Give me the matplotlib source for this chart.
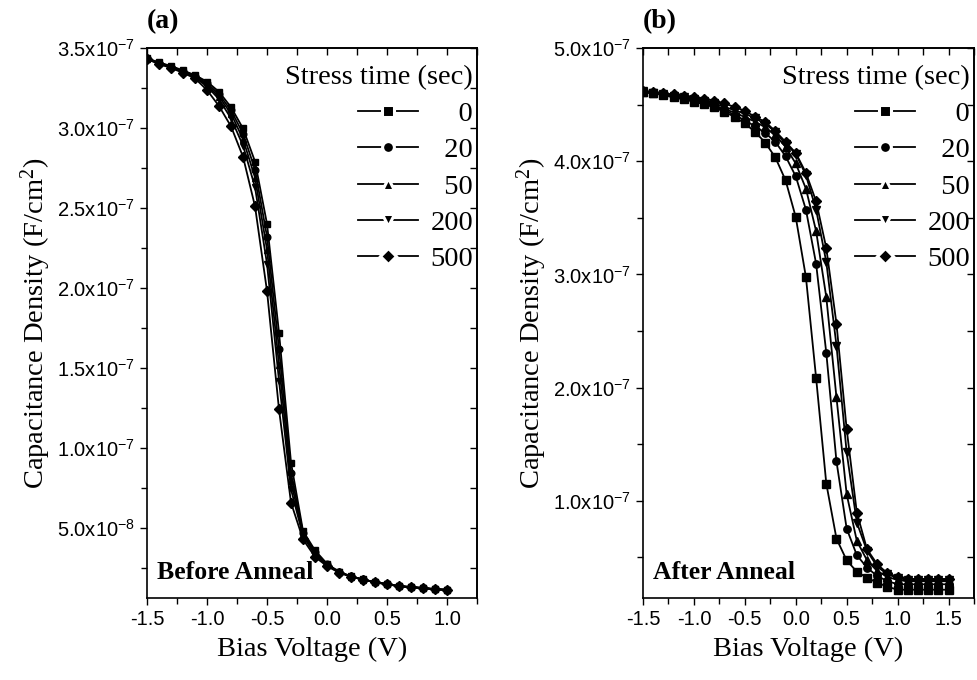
import numpy as np
import matplotlib
matplotlib.use("Agg")
import matplotlib.pyplot as plt
from matplotlib.ticker import MultipleLocator, FuncFormatter
from matplotlib.lines import Line2D

# stress times and marker shapes
labels = ['0', '20', '50', '200', '500']
markers = ['s', 'o', '^', 'v', 'D']

# (a) before anneal, bias -1.5..1.0 V, capacitance in 1e-7 F/cm^2
va = np.round(np.arange(-1.5, 1.01, 0.1), 2)
ca_0 = [3.435, 3.41, 3.387, 3.36, 3.33, 3.29, 3.226, 3.13, 2.997, 2.79, 2.40, 1.72, 0.908,
        0.48, 0.359, 0.275, 0.225, 0.196, 0.177, 0.160, 0.148, 0.135, 0.129, 0.123, 0.116, 0.112]
ca_20 = [3.435, 3.408, 3.384, 3.356, 3.325, 3.28, 3.21, 3.11, 2.965, 2.74, 2.32, 1.62, 0.84,
         0.47, 0.35, 0.272, 0.224, 0.196, 0.177, 0.160, 0.148, 0.135, 0.129, 0.123, 0.116, 0.112]
ca_50 = [3.433, 3.406, 3.381, 3.353, 3.32, 3.27, 3.195, 3.09, 2.93, 2.69, 2.24, 1.52, 0.79,
         0.46, 0.34, 0.27, 0.223, 0.195, 0.176, 0.160, 0.148, 0.135, 0.129, 0.123, 0.116, 0.112]
ca_200 = [3.432, 3.403, 3.378, 3.35, 3.315, 3.26, 3.18, 3.06, 2.89, 2.63, 2.15, 1.42, 0.74,
          0.45, 0.33, 0.265, 0.222, 0.195, 0.176, 0.159, 0.147, 0.135, 0.129, 0.123, 0.116, 0.112]
ca_500 = [3.43, 3.40, 3.375, 3.345, 3.31, 3.237, 3.137, 3.01, 2.82, 2.51, 1.98, 1.24, 0.657,
          0.428, 0.318, 0.26, 0.22, 0.194, 0.176, 0.159, 0.147, 0.135, 0.129, 0.123, 0.116, 0.112]

# (b) after anneal, bias -1.5..1.5 V
vb = np.round(np.arange(-1.5, 1.51, 0.1), 2)
cb_0 = [4.613, 4.599, 4.584, 4.563, 4.546, 4.525, 4.504, 4.475, 4.436, 4.392, 4.334, 4.26,
        4.165, 4.033, 3.832, 3.507, 2.976, 2.086, 1.153, 0.666, 0.475, 0.374, 0.321, 0.277,
        0.242, 0.215, 0.215, 0.215, 0.215, 0.215, 0.215]
cb_20 = [4.615, 4.60, 4.59, 4.57, 4.555, 4.535, 4.515, 4.49, 4.45, 4.41, 4.36, 4.31,
         4.25, 4.171, 4.044, 3.867, 3.572, 3.095, 2.307, 1.348, 0.755, 0.52, 0.41, 0.336,
         0.292, 0.263, 0.263, 0.263, 0.263, 0.263, 0.263]
cb_50 = [4.615, 4.60, 4.59, 4.575, 4.56, 4.54, 4.52, 4.495, 4.46, 4.43, 4.39, 4.35,
         4.30, 4.23, 4.127, 3.98, 3.758, 3.383, 2.80, 1.914, 1.059, 0.646, 0.475, 0.38,
         0.33, 0.30, 0.29, 0.29, 0.29, 0.29, 0.29]
cb_200 = [4.62, 4.605, 4.595, 4.58, 4.565, 4.55, 4.53, 4.51, 4.48, 4.45, 4.42, 4.38,
          4.33, 4.26, 4.15, 4.068, 3.876, 3.573, 3.109, 2.372, 1.428, 0.808, 0.558, 0.42,
          0.35, 0.32, 0.30, 0.30, 0.30, 0.30, 0.30]
cb_500 = [4.62, 4.61, 4.60, 4.59, 4.58, 4.565, 4.55, 4.535, 4.51, 4.48, 4.445, 4.392,
          4.348, 4.265, 4.171, 4.073, 3.897, 3.646, 3.233, 2.564, 1.634, 0.896, 0.572, 0.44,
          0.36, 0.33, 0.31, 0.31, 0.31, 0.31, 0.31]

series_a = [ca_0, ca_20, ca_50, ca_200, ca_500]
series_b = [cb_0, cb_20, cb_50, cb_200, cb_500]

serif = ['Liberation Serif', 'DejaVu Serif']
sans = ['Liberation Sans', 'DejaVu Sans']


def sci(v, pos):
    if v <= 0:
        return ''
    e = int(np.floor(np.log10(v) + 1e-9))
    m = v / 10.0**e
    return '%.1fx10$\\mathregular{^{%d}}$' % (m, e)


fig = plt.figure(figsize=(9.77, 6.8), dpi=100)
axa = fig.add_axes([0.1505, 0.1206, 0.3377, 0.8088])
axb = fig.add_axes([0.6581, 0.1206, 0.3388, 0.8088])

for ax, v, ss, msz in [(axa, va, series_a, 4.8), (axb, vb, series_b, 5.3)]:
    for c, m in zip(ss, markers):
        ax.plot(v, np.array(c) * 1e-7, color='k', lw=1.3, marker=m, ms=msz, mfc='k', mec='k')

axa.set_xlim(-1.5, 1.25)
axa.set_ylim(6.1e-9, 3.5e-7)
axa.yaxis.set_major_locator(MultipleLocator(5e-8))
axa.yaxis.set_minor_locator(MultipleLocator(2.5e-8))

axb.set_xlim(-1.5, 1.75)
axb.set_ylim(1.42e-8, 5.0e-7)
axb.yaxis.set_major_locator(MultipleLocator(1e-7))
axb.yaxis.set_minor_locator(MultipleLocator(5e-8))

handles = [Line2D([], [], color='k', lw=1.3, marker=m, ms=8.5, mfc='k', mec='white', mew=2.2)
           for m in markers]
pad_labels = ['\u2007' * (3 - len(s)) + s for s in labels]

for ax, tag, note in [(axa, '(a)', 'Before Anneal'), (axb, '(b)', 'After Anneal')]:
    ax.xaxis.set_major_locator(MultipleLocator(0.5))
    ax.xaxis.set_minor_locator(MultipleLocator(0.25))
    ax.yaxis.set_major_formatter(FuncFormatter(sci))
    ax.xaxis.set_major_formatter(FuncFormatter(lambda v, p: '%.1f' % v))
    ax.tick_params(which='both', direction='out', top=False, right=False, width=1.0)
    ax.tick_params(which='major', length=5, labelsize=14.5)
    ax.tick_params(which='minor', length=4)
    for t in ax.get_xticklabels() + ax.get_yticklabels():
        t.set_family(sans)
    # inward ticks mirrored on top/right
    sec_x = ax.secondary_xaxis('top')
    sec_x.xaxis.set_major_locator(MultipleLocator(0.5))
    sec_x.xaxis.set_minor_locator(MultipleLocator(0.25))
    sec_x.tick_params(which='both', direction='in', labeltop=False, length=5, width=1.0)
    sec_y = ax.secondary_yaxis('right')
    sec_y.yaxis.set_major_locator(ax.yaxis.get_major_locator())
    sec_y.yaxis.set_minor_locator(ax.yaxis.get_minor_locator())
    sec_y.tick_params(which='both', direction='in', labelright=False, length=5, width=1.0)
    for s in list(ax.spines.values()) + [sec_x.spines['top'], sec_y.spines['right']]:
        s.set_linewidth(1.2)
    ax.set_xlabel('Bias Voltage (V)', family=serif, fontsize=20.5, labelpad=6)
    ax.set_ylabel('Capacitance Density (F/cm$\\mathregular{^2}$)', family=serif,
                  fontsize=20.5, labelpad=3)
    ax.text(0.0, 1.025, tag, transform=ax.transAxes, family=serif, fontweight='bold',
            fontsize=20, ha='left', va='bottom')
    ax.text(0.03, 0.025, note, transform=ax.transAxes, family=serif, fontweight='bold',
            fontsize=18.5, ha='left', va='bottom')
    leg = ax.legend(handles, pad_labels, title='Stress time (sec)', loc='upper right',
                    bbox_to_anchor=(1.04, 1.0),
                    frameon=False, alignment='right', handlelength=2.1, handletextpad=0.45,
                    labelspacing=0.37, borderaxespad=0.1, borderpad=0.5,
                    prop={'family': serif, 'size': 20.5},
                    title_fontproperties={'family': serif, 'size': 20.5})

fig.savefig('out.png', dpi=100)
